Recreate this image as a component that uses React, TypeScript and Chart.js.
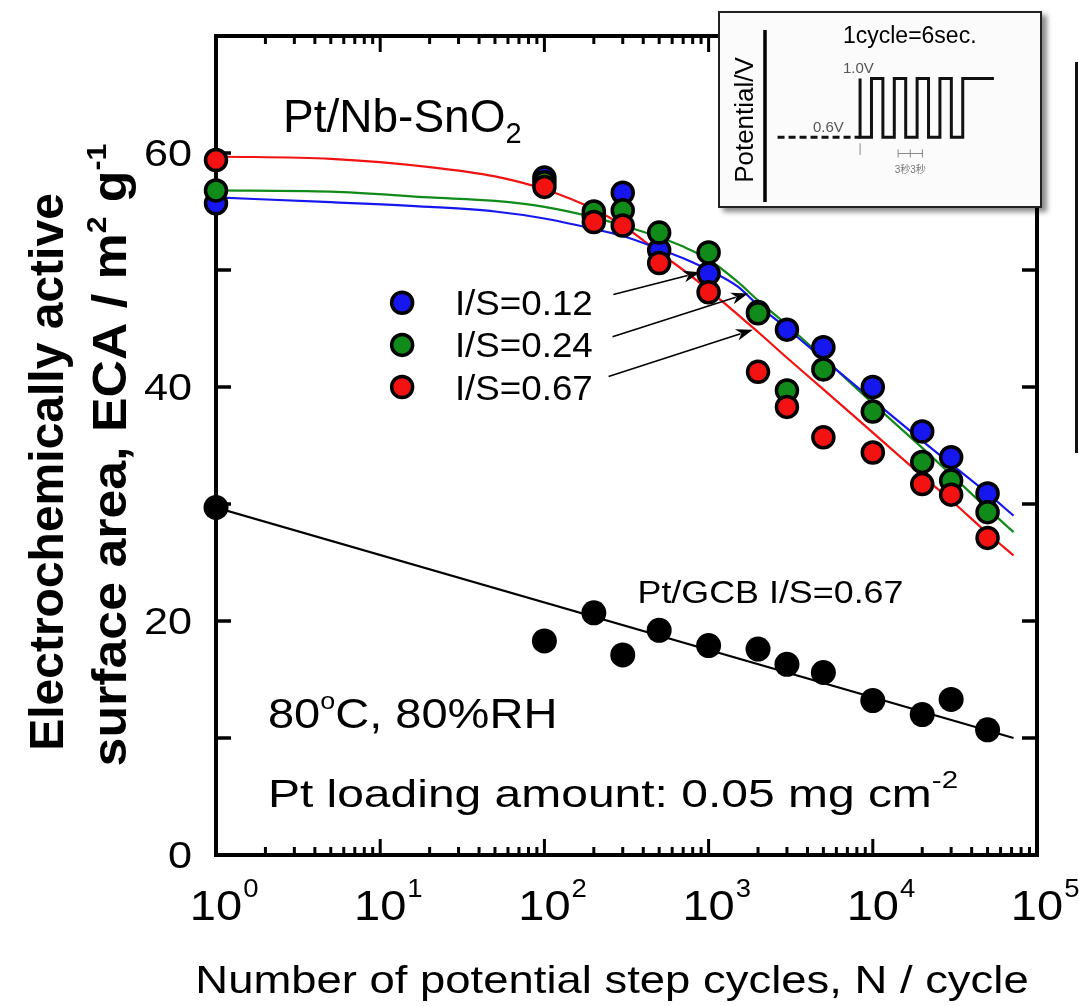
import React, { useEffect, useRef } from 'react';
import { Chart, registerables } from 'chart.js';

Chart.register(...registerables);

// ---- measured ECA values (m2 g-1) versus number of potential step cycles ----
const cycles = [1, 100, 200, 300, 500, 1000, 2000, 3000, 5000, 10000, 20000, 30000, 50000];
const ecaIS012 = [55.7, 57.9, 54.6, 56.6, 51.7, 49.7, 46.4, 44.9, 43.4, 40.0, 36.2, 34.0, 30.9];
const ecaIS024 = [56.8, 57.5, 55.0, 55.1, 53.2, 51.5, 46.3, 39.7, 41.5, 37.9, 33.6, 32.0, 29.3];
const ecaIS067 = [59.4, 57.1, 54.1, 53.8, 50.6, 48.1, 41.3, 38.3, 35.7, 34.4, 31.7, 30.8, 27.1];
const ecaGCB = [29.7, 18.3, 20.7, 17.1, 19.2, 17.9, 17.6, 16.3, 15.6, 13.2, 12.0, 13.3, 10.7];

// ---- fitted degradation curves ----
const fitCycles = [1, 5, 20, 50, 100, 200, 300, 500, 700, 1000, 1500, 2000, 3000, 5000, 10000, 20000, 30000, 50000, 72000];
const fitIS012 = [56.2, 55.8, 55.4, 55.0, 54.4, 53.5, 52.9, 51.8, 51.0, 50.0, 48.6, 47.0, 45.0, 42.4, 38.9, 35.4, 33.4, 30.9, 29.0];
const fitIS024 = [56.8, 56.7, 56.2, 55.9, 55.4, 54.5, 53.8, 52.8, 52.0, 50.9, 49.0, 47.4, 45.3, 42.5, 38.6, 34.8, 32.5, 29.6, 27.6];
const fitIS067 = [59.7, 59.5, 58.8, 58.0, 56.9, 55.2, 53.8, 51.5, 50.0, 48.3, 46.2, 44.7, 42.5, 39.8, 36.1, 32.4, 30.3, 27.5, 25.6];
const gcbFitCycles = [1, 72000];
const gcbFitECA = [29.7, 10.0];

// ---- axes ----
const yLabelValues = [0, 20, 40, 60];
const yTickValues = [10, 20, 30, 40, 50, 60];
const xDecades = [0, 1, 2, 3, 4, 5];

// ---- legend ----
const legendLabels = ['I/S=0.12', 'I/S=0.24', 'I/S=0.67'];
const legendCycles = 13.6;
const legendECA = [47.2, 43.6, 40.0];
const legendTextCycles = 28.5;

// ---- arrows from the legend to the fitted curves (cycles, ECA) ----
const arrowFromN = [263, 260, 246];
const arrowFromECA = [47.9, 44.3, 40.9];
const arrowToN = [890, 1740, 1860];
const arrowToECA = [49.8, 48.0, 44.9];

// ---- inset: potential step waveform (s, V) ----
const waveTime = [0, 0, 3, 6, 9, 12, 15, 18, 21, 24, 27, 30, 35.2];
const waveVolt = [0.6, 1.0, 0.6, 1.0, 0.6, 1.0, 0.6, 1.0, 0.6, 1.0, 0.6, 1.0, 1.0];
const restTime = [-21.7, 0];
const restVolt = [0.6, 0.6];

const BLUE = '#1616ee';
const GREEN = '#108a18';
const RED = '#f21212';
const FONT = '"Liberation Sans", Arial, Helvetica, "Noto Sans CJK JP", sans-serif';

const toXY = (xs: number[], ys: number[]) => xs.map((x, i) => ({ x, y: ys[i] }));

type Run = { t: string; size: number; dy?: number; bold?: boolean };

function drawRuns(
  ctx: CanvasRenderingContext2D,
  runs: Run[],
  x: number,
  y: number,
  opts: { sx?: number; align?: 'left' | 'center' | 'right'; color?: string; rotate?: number } = {}
) {
  const sx = opts.sx ?? 1;
  ctx.save();
  ctx.translate(x, y);
  if (opts.rotate) ctx.rotate(opts.rotate);
  ctx.scale(sx, 1);
  ctx.fillStyle = opts.color ?? '#000';
  ctx.textBaseline = 'alphabetic';
  ctx.textAlign = 'left';
  const fontOf = (r: Run) => `${r.bold ? 'bold ' : ''}${r.size}px ${FONT}`;
  const widths = runs.map((r) => {
    ctx.font = fontOf(r);
    return ctx.measureText(r.t).width;
  });
  const total = widths.reduce((a, b) => a + b, 0);
  let cx = opts.align === 'center' ? -total / 2 : opts.align === 'right' ? -total : 0;
  runs.forEach((r, i) => {
    ctx.font = fontOf(r);
    ctx.fillText(r.t, cx, r.dy ?? 0);
    cx += widths[i];
  });
  ctx.restore();
}

function seg(ctx: CanvasRenderingContext2D, x1: number, y1: number, x2: number, y2: number) {
  ctx.beginPath();
  ctx.moveTo(x1, y1);
  ctx.lineTo(x2, y2);
  ctx.stroke();
}

// frame with inward ticks on all four sides
const framePlugin = {
  id: 'frame',
  beforeDatasetsDraw(chart: any) {
    const { ctx, chartArea: a, scales } = chart;
    const xs = scales.x;
    const ys = scales.y;
    ctx.save();
    ctx.strokeStyle = '#000';
    ctx.lineWidth = 3.5;
    yTickValues.forEach((v) => {
      const py = ys.getPixelForValue(v);
      seg(ctx, a.left, py, a.left + 15, py);
      seg(ctx, a.right - 15, py, a.right, py);
    });
    ctx.lineWidth = 3;
    for (let d = 0; d < 5; d++) {
      for (let m = 1; m <= 9; m++) {
        const v = m * Math.pow(10, d);
        if (v <= 1) continue;
        const px = xs.getPixelForValue(v);
        const len = m === 1 ? 16 : 8;
        seg(ctx, px, a.bottom, px, a.bottom - len);
        seg(ctx, px, a.top, px, a.top + len);
      }
    }
    ctx.lineWidth = 4;
    ctx.strokeRect(a.left, a.top, a.right - a.left, a.bottom - a.top);
    ctx.restore();
  },
};

// texts, legend and arrows
const labelPlugin = {
  id: 'labels',
  afterDraw(chart: any) {
    const { ctx, chartArea: a, scales } = chart;
    const xs = scales.x;
    const ys = scales.y;
    const X = (v: number) => xs.getPixelForValue(v);
    const Y = (v: number) => ys.getPixelForValue(v);

    // arrows
    ctx.save();
    ctx.strokeStyle = '#000';
    ctx.fillStyle = '#000';
    ctx.lineWidth = 1.6;
    arrowFromN.forEach((n, i) => {
      const x1 = X(n), y1 = Y(arrowFromECA[i]);
      const x2 = X(arrowToN[i]), y2 = Y(arrowToECA[i]);
      const ang = Math.atan2(y2 - y1, x2 - x1);
      const hl = 17, hw = 6;
      const bx = x2 - hl * Math.cos(ang), by = y2 - hl * Math.sin(ang);
      seg(ctx, x1, y1, bx + 4 * Math.cos(ang), by + 4 * Math.sin(ang));
      ctx.beginPath();
      ctx.moveTo(x2, y2);
      ctx.lineTo(bx - hw * Math.sin(ang), by + hw * Math.cos(ang));
      ctx.lineTo(bx + 5 * Math.cos(ang), by + 5 * Math.sin(ang));
      ctx.lineTo(bx + hw * Math.sin(ang), by - hw * Math.cos(ang));
      ctx.closePath();
      ctx.fill();
    });
    ctx.restore();

    // legend
    const colors = [BLUE, GREEN, RED];
    legendLabels.forEach((lab, i) => {
      const px = X(legendCycles), py = Y(legendECA[i]);
      ctx.save();
      ctx.beginPath();
      ctx.arc(px, py, 10.5, 0, Math.PI * 2);
      ctx.fillStyle = colors[i];
      ctx.fill();
      ctx.lineWidth = 3.5;
      ctx.strokeStyle = '#000';
      ctx.stroke();
      ctx.restore();
      drawRuns(ctx, [{ t: lab, size: 35 }], X(legendTextCycles), py + 12.5, { sx: 1.05 });
    });

    // y tick labels
    yLabelValues.forEach((v) => {
      drawRuns(ctx, [{ t: String(v), size: 36 }], a.left - 24, Y(v) + 13, { align: 'right', sx: 1.2 });
    });

    // x tick labels
    xDecades.forEach((d) => {
      const px = X(Math.pow(10, d));
      ctx.save();
      ctx.font = `42px ${FONT}`;
      const w = ctx.measureText('10').width * 1.12;
      ctx.restore();
      drawRuns(ctx, [{ t: '10', size: 42 }], px - w / 2, a.bottom + 65, { sx: 1.12 });
      drawRuns(ctx, [{ t: String(d), size: 25 }], px + w / 2 + 1, a.bottom + 42, { sx: 1.1 });
    });

    // axis titles
    drawRuns(ctx, [{ t: 'Number of potential step cycles, N / cycle', size: 39 }], 612, a.bottom + 138, {
      align: 'center',
      sx: 1.165,
    });
    drawRuns(ctx, [{ t: 'Electrochemically active', size: 48, bold: true }], 63, 472, {
      align: 'center',
      rotate: -Math.PI / 2,
      sx: 1.0,
    });
    drawRuns(
      ctx,
      [
        { t: 'surface area, ECA / m', size: 48, bold: true },
        { t: '2', size: 28, bold: true, dy: -20 },
        { t: ' g', size: 48, bold: true },
        { t: '-1', size: 28, bold: true, dy: -20 },
      ],
      126,
      455,
      { align: 'center', rotate: -Math.PI / 2, sx: 1.08 }
    );

    // annotations
    drawRuns(
      ctx,
      [
        { t: 'Pt/Nb-SnO', size: 46 },
        { t: '2', size: 29, dy: 11 },
      ],
      X(2.56),
      Y(61.8)
    );
    drawRuns(ctx, [{ t: 'Pt/GCB I/S=0.67', size: 32 }], X(369), Y(21.5), { sx: 1.12 });
    drawRuns(
      ctx,
      [
        { t: '80', size: 42 },
        { t: 'o', size: 24, dy: -19 },
        { t: 'C, 80%RH', size: 42 },
      ],
      X(2.07),
      Y(10.85),
      { sx: 1.12 }
    );
    drawRuns(
      ctx,
      [
        { t: 'Pt loading amount: 0.05 mg cm', size: 39 },
        { t: '-2', size: 24, dy: -19 },
      ],
      X(2.07),
      Y(4.1),
      { sx: 1.23 }
    );
  },
};

// inset decorations: axis line and labels
const insetPlugin = {
  id: 'insetLabels',
  afterDraw(chart: any) {
    const { ctx, chartArea: a, scales } = chart;
    const X = (v: number) => scales.x.getPixelForValue(v);
    const Y = (v: number) => scales.y.getPixelForValue(v);
    ctx.save();
    ctx.strokeStyle = '#000';
    ctx.lineWidth = 3.5;
    seg(ctx, a.left, a.top, a.left, a.bottom);
    ctx.restore();

    drawRuns(ctx, [{ t: 'Potential/V', size: 26 }], 33, (a.top + a.bottom) / 2 + 4, {
      align: 'center',
      rotate: -Math.PI / 2,
    });
    drawRuns(ctx, [{ t: '1cycle=6sec.', size: 23 }], X(-4.5), Y(1.241));
    drawRuns(ctx, [{ t: '1.0V', size: 15 }], X(-4.5), Y(1.037), { color: '#555' });
    drawRuns(ctx, [{ t: '0.6V', size: 15 }], X(-12.4), Y(0.636), { color: '#555' });

    // 3 s + 3 s dimension marks
    ctx.save();
    ctx.strokeStyle = '#888';
    ctx.lineWidth = 1;
    const yd = Y(0.49);
    seg(ctx, X(10), yd, X(16.4), yd);
    [10, 13.2, 16.4].forEach((t) => seg(ctx, X(t), yd - 4, X(t), yd + 4));
    seg(ctx, X(0), Y(0.56), X(0), Y(0.48));
    ctx.restore();
    drawRuns(ctx, [{ t: '3秒3秒', size: 10 }], X(13.2), Y(0.357), { align: 'center', color: '#777' });
  },
};

export default function App() {
  const mainRef = useRef<HTMLCanvasElement | null>(null);
  const insetRef = useRef<HTMLCanvasElement | null>(null);

  useEffect(() => {
    if (!mainRef.current || !insetRef.current) return;
    const dot = (data: any, color: string, order: number) => ({
      data,
      showLine: false,
      pointRadius: 10.5,
      pointBorderWidth: 3.5,
      pointBackgroundColor: color,
      pointBorderColor: '#000',
      order,
      clip: false as any,
    });
    const curve = (data: any, color: string) => ({
      data,
      showLine: true,
      borderColor: color,
      borderWidth: 2.2,
      pointRadius: 0,
      cubicInterpolationMode: 'monotone' as const,
      fill: false,
      order: 10,
    });

    const main = new Chart(mainRef.current, {
      type: 'scatter',
      data: {
        datasets: [
          curve(toXY(fitCycles, fitIS012), BLUE),
          curve(toXY(fitCycles, fitIS024), GREEN),
          curve(toXY(fitCycles, fitIS067), RED),
          { ...curve(toXY(gcbFitCycles, gcbFitECA), '#000'), cubicInterpolationMode: 'default' as const },
          { ...dot(toXY(cycles, ecaGCB), '#000', 5), pointRadius: 12.5, pointBorderWidth: 0 },
          dot(toXY(cycles, ecaIS012), BLUE, 3),
          dot(toXY(cycles, ecaIS024), GREEN, 2),
          dot(toXY(cycles, ecaIS067), RED, 1),
        ],
      },
      options: {
        responsive: false,
        animation: false,
        devicePixelRatio: 1,
        layout: { padding: { left: 216, right: 42, top: 36, bottom: 151 } },
        scales: {
          x: { type: 'logarithmic', min: 1, max: 100000, display: false },
          y: { type: 'linear', min: 0, max: 70, display: false },
        },
        plugins: { legend: { display: false }, tooltip: { enabled: false } },
      },
      plugins: [framePlugin, labelPlugin],
    });

    const inset = new Chart(insetRef.current, {
      type: 'line',
      data: {
        datasets: [
          {
            data: toXY(waveTime, waveVolt),
            stepped: 'after',
            borderColor: '#111',
            borderWidth: 3,
            pointRadius: 0,
            fill: false,
          },
          {
            data: toXY(restTime, restVolt),
            borderColor: '#111',
            borderWidth: 3,
            borderDash: [7, 4],
            pointRadius: 0,
            fill: false,
          },
        ],
      },
      options: {
        responsive: false,
        animation: false,
        devicePixelRatio: 1,
        layout: { padding: { left: 45, right: 5, top: 17, bottom: 4 } },
        scales: {
          x: { type: 'linear', min: -25, max: 46, display: false },
          y: { type: 'linear', min: 0.16, max: 1.33, display: false },
        },
        plugins: { legend: { display: false }, tooltip: { enabled: false } },
      },
      plugins: [insetPlugin],
    });

    return () => {
      main.destroy();
      inset.destroy();
    };
  }, []);

  return (
    <div style={{ position: 'absolute', left: 0, top: 0, width: 1079, height: 1006, background: '#fff', overflow: 'hidden' }}>
      <canvas ref={mainRef} width={1079} height={1006} style={{ position: 'absolute', left: 0, top: 0 }} />
      <div
        style={{
          position: 'absolute',
          left: 718,
          top: 11,
          width: 320,
          height: 193,
          border: '2px solid #222',
          background: '#fbfbfb',
          boxShadow: '5px 4px 5px rgba(0,0,0,0.45)',
        }}
      >
        <canvas ref={insetRef} width={320} height={193} style={{ position: 'absolute', left: 0, top: 0 }} />
      </div>
      <div style={{ position: 'absolute', left: 1075, top: 62, width: 3, height: 391, background: '#111' }} />
    </div>
  );
}
